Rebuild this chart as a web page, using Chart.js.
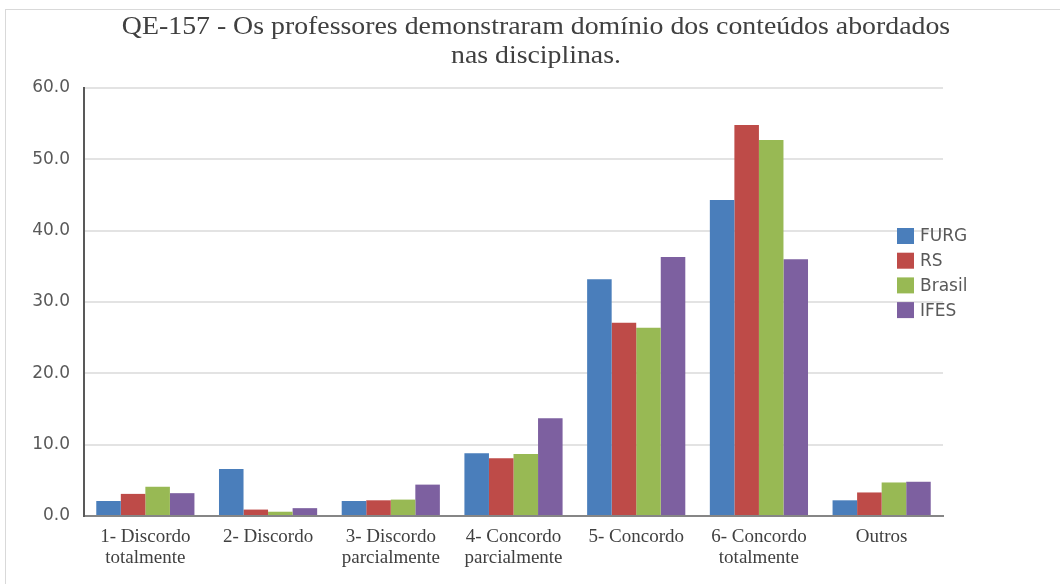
<!DOCTYPE html>
<html>
<head>
<meta charset="utf-8">
<script src="https://cdn.jsdelivr.net/npm/chart.js@4/dist/chart.umd.min.js"></script>
<style>
  html, body { margin: 0; padding: 0; background: #fff; }
  #box { width: 1060px; height: 584px; }
</style>
</head>
<body>
<div id="box"><canvas id="grafico"></canvas></div>
<script>
// Kategorien und Werte
const kategorien = [
    ['1- Discordo', 'totalmente'],
    '2- Discordo',
    ['3- Discordo', 'parcialmente'],
    ['4- Concordo', 'parcialmente'],
    '5- Concordo',
    ['6- Concordo', 'totalmente'],
    'Outros'
];
const furg   = [2.1, 6.6, 2.1, 8.8, 33.2, 44.3, 2.2];
const rs     = [3.1, 0.9, 2.2, 8.1, 27.1, 54.8, 3.3];
const brasil = [4.1, 0.6, 2.3, 8.7, 26.4, 52.7, 4.7];
const ifes   = [3.2, 1.1, 4.4, 13.7, 36.3, 36.0, 4.8];
const yTicks = [0, 10, 20, 30, 40, 50, 60];

const titel = ['QE-157 - Os professores demonstraram domínio dos conteúdos abordados', 'nas disciplinas.'];

// Rahmen, Titel und Legende selbst zeichnen
const extrasPlugin = {
    id: 'extras',
    beforeDraw(chart) {
        const ctx = chart.ctx;
        ctx.save();
        ctx.strokeStyle = '#d9d9d9';
        ctx.lineWidth = 1;
        ctx.strokeRect(5.5, 9.5, 1060, 580);
        ctx.restore();
    },
    afterDraw(chart) {
        const ctx = chart.ctx;
        ctx.save();
        // Titel (leicht in die Breite gezogen wie im Original)
        ctx.font = '26px "Liberation Serif"';
        ctx.fillStyle = '#404040';
        ctx.textAlign = 'center';
        ctx.textBaseline = 'alphabetic';
        titel.forEach((zeile, i) => {
            ctx.save();
            ctx.translate(536, 34 + i * 29);
            ctx.scale(1.07, 1);
            ctx.fillText(zeile, 0, 0);
            ctx.restore();
        });
        // Legende rechts
        ctx.font = '17px "DejaVu Sans"';
        ctx.textAlign = 'left';
        ctx.textBaseline = 'middle';
        chart.data.datasets.forEach((ds, i) => {
            const y = 236 + i * 24.7;
            ctx.fillStyle = ds.backgroundColor;
            ctx.fillRect(897, y - 8, 17, 16);
            ctx.fillStyle = '#595959';
            ctx.fillText(ds.label, 920, y + 1);
        });
        ctx.restore();
    }
};

new Chart(document.getElementById('grafico'), {
    type: 'bar',
    data: {
        labels: kategorien,
        datasets: [
            { label: 'FURG', data: furg, backgroundColor: '#4a7ebb' },
            { label: 'RS', data: rs, backgroundColor: '#be4b48' },
            { label: 'Brasil', data: brasil, backgroundColor: '#98b954' },
            { label: 'IFES', data: ifes, backgroundColor: '#7d60a0' }
        ]
    },
    options: {
        responsive: true,
        maintainAspectRatio: false,
        animation: false,
        layout: { padding: { top: 88, left: 0, right: 117, bottom: 0 } },
        datasets: { bar: { categoryPercentage: 0.8, barPercentage: 1.0 } },
        plugins: {
            legend: { display: false },
            tooltip: { enabled: false },
            title: { display: false }
        },
        scales: {
            x: {
                grid: { display: false, drawTicks: false },
                border: { color: '#868686', width: 2 },
                ticks: {
                    color: '#404040',
                    font: { family: '"Liberation Serif"', size: 19, lineHeight: 1.1 },
                    padding: 11,
                    maxRotation: 0,
                    autoSkip: false
                },
                afterFit(s) { s.height = 68; }
            },
            y: {
                min: 0,
                max: 60,
                afterBuildTicks(s) { s.ticks = yTicks.map(v => ({ value: v })); },
                grid: { color: '#e3e3e3', lineWidth: 2, drawTicks: false },
                border: { color: '#595959', width: 2 },
                ticks: {
                    color: '#595959',
                    font: { family: '"DejaVu Sans"', size: 17 },
                    padding: 14,
                    callback: v => v.toFixed(1)
                },
                afterFit(s) { s.width = 84; }
            }
        }
    },
    plugins: [extrasPlugin]
});
</script>
</body>
</html>
